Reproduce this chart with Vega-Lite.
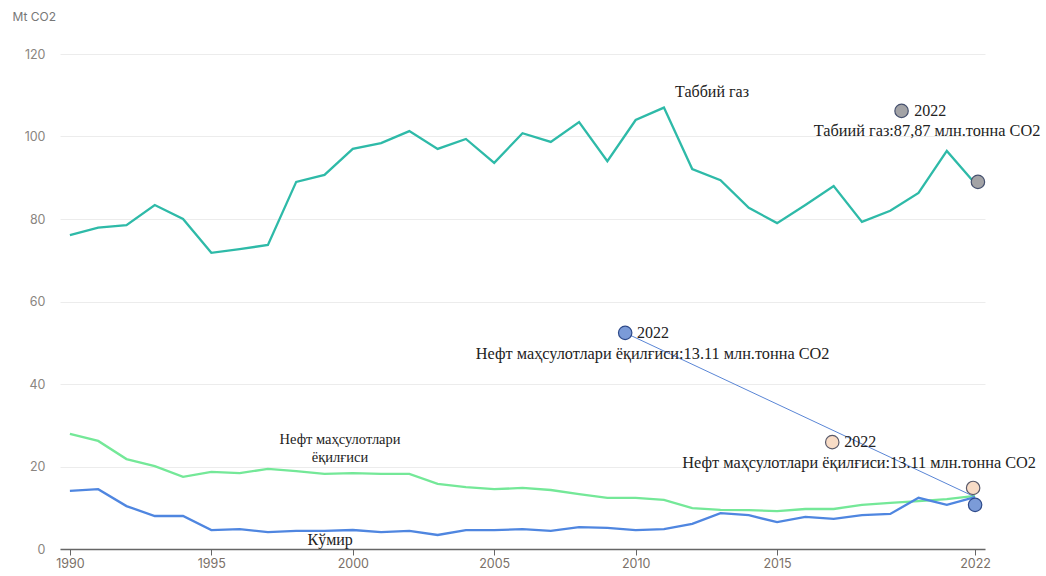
{
  "$schema": "https://vega.github.io/schema/vega-lite/v6.json",
  "autosize": "none",
  "width": 925,
  "height": 495,
  "padding": {"left": 60, "top": 54, "right": 61, "bottom": 27},
  "background": "white",
  "config": {"view": {"stroke": null}},
  "datasets": {
    "series": [
      {"year": 1990, "series": "gas", "value": 76.1},
      {"year": 1991, "series": "gas", "value": 77.9},
      {"year": 1992, "series": "gas", "value": 78.5},
      {"year": 1993, "series": "gas", "value": 83.4},
      {"year": 1994, "series": "gas", "value": 80.0},
      {"year": 1995, "series": "gas", "value": 71.8},
      {"year": 1996, "series": "gas", "value": 72.7},
      {"year": 1997, "series": "gas", "value": 73.7},
      {"year": 1998, "series": "gas", "value": 89.0},
      {"year": 1999, "series": "gas", "value": 90.7},
      {"year": 2000, "series": "gas", "value": 97.0},
      {"year": 2001, "series": "gas", "value": 98.4},
      {"year": 2002, "series": "gas", "value": 101.3},
      {"year": 2003, "series": "gas", "value": 97.0},
      {"year": 2004, "series": "gas", "value": 99.4},
      {"year": 2005, "series": "gas", "value": 93.6},
      {"year": 2006, "series": "gas", "value": 100.8},
      {"year": 2007, "series": "gas", "value": 98.7},
      {"year": 2008, "series": "gas", "value": 103.5},
      {"year": 2009, "series": "gas", "value": 94.0},
      {"year": 2010, "series": "gas", "value": 104.0},
      {"year": 2011, "series": "gas", "value": 107.0},
      {"year": 2012, "series": "gas", "value": 92.1},
      {"year": 2013, "series": "gas", "value": 89.4},
      {"year": 2014, "series": "gas", "value": 82.7},
      {"year": 2015, "series": "gas", "value": 79.0},
      {"year": 2016, "series": "gas", "value": 83.4},
      {"year": 2017, "series": "gas", "value": 88.0},
      {"year": 2018, "series": "gas", "value": 79.3},
      {"year": 2019, "series": "gas", "value": 82.0},
      {"year": 2020, "series": "gas", "value": 86.3},
      {"year": 2021, "series": "gas", "value": 96.5},
      {"year": 2022, "series": "gas", "value": 88.6},
      {"year": 1990, "series": "oil", "value": 27.9},
      {"year": 1991, "series": "oil", "value": 26.2},
      {"year": 1992, "series": "oil", "value": 21.8},
      {"year": 1993, "series": "oil", "value": 20.1},
      {"year": 1994, "series": "oil", "value": 17.5},
      {"year": 1995, "series": "oil", "value": 18.7},
      {"year": 1996, "series": "oil", "value": 18.4},
      {"year": 1997, "series": "oil", "value": 19.4},
      {"year": 1998, "series": "oil", "value": 18.9},
      {"year": 1999, "series": "oil", "value": 18.2},
      {"year": 2000, "series": "oil", "value": 18.4},
      {"year": 2001, "series": "oil", "value": 18.2},
      {"year": 2002, "series": "oil", "value": 18.2},
      {"year": 2003, "series": "oil", "value": 15.8},
      {"year": 2004, "series": "oil", "value": 15.0},
      {"year": 2005, "series": "oil", "value": 14.5},
      {"year": 2006, "series": "oil", "value": 14.8},
      {"year": 2007, "series": "oil", "value": 14.3},
      {"year": 2008, "series": "oil", "value": 13.3},
      {"year": 2009, "series": "oil", "value": 12.4},
      {"year": 2010, "series": "oil", "value": 12.4},
      {"year": 2011, "series": "oil", "value": 11.9},
      {"year": 2012, "series": "oil", "value": 9.9},
      {"year": 2013, "series": "oil", "value": 9.5},
      {"year": 2014, "series": "oil", "value": 9.4},
      {"year": 2015, "series": "oil", "value": 9.2},
      {"year": 2016, "series": "oil", "value": 9.7},
      {"year": 2017, "series": "oil", "value": 9.7},
      {"year": 2018, "series": "oil", "value": 10.7},
      {"year": 2019, "series": "oil", "value": 11.2},
      {"year": 2020, "series": "oil", "value": 11.6},
      {"year": 2021, "series": "oil", "value": 12.1},
      {"year": 2022, "series": "oil", "value": 12.9},
      {"year": 1990, "series": "coal", "value": 14.1},
      {"year": 1991, "series": "coal", "value": 14.5},
      {"year": 1992, "series": "coal", "value": 10.4},
      {"year": 1993, "series": "coal", "value": 8.0},
      {"year": 1994, "series": "coal", "value": 8.0},
      {"year": 1995, "series": "coal", "value": 4.6},
      {"year": 1996, "series": "coal", "value": 4.8},
      {"year": 1997, "series": "coal", "value": 4.1},
      {"year": 1998, "series": "coal", "value": 4.4},
      {"year": 1999, "series": "coal", "value": 4.4},
      {"year": 2000, "series": "coal", "value": 4.6},
      {"year": 2001, "series": "coal", "value": 4.1},
      {"year": 2002, "series": "coal", "value": 4.4},
      {"year": 2003, "series": "coal", "value": 3.4},
      {"year": 2004, "series": "coal", "value": 4.6},
      {"year": 2005, "series": "coal", "value": 4.6},
      {"year": 2006, "series": "coal", "value": 4.8},
      {"year": 2007, "series": "coal", "value": 4.4},
      {"year": 2008, "series": "coal", "value": 5.3},
      {"year": 2009, "series": "coal", "value": 5.1},
      {"year": 2010, "series": "coal", "value": 4.6},
      {"year": 2011, "series": "coal", "value": 4.8},
      {"year": 2012, "series": "coal", "value": 6.1},
      {"year": 2013, "series": "coal", "value": 8.7},
      {"year": 2014, "series": "coal", "value": 8.2},
      {"year": 2015, "series": "coal", "value": 6.5},
      {"year": 2016, "series": "coal", "value": 7.8},
      {"year": 2017, "series": "coal", "value": 7.3},
      {"year": 2018, "series": "coal", "value": 8.2},
      {"year": 2019, "series": "coal", "value": 8.5},
      {"year": 2020, "series": "coal", "value": 12.4},
      {"year": 2021, "series": "coal", "value": 10.7},
      {"year": 2022, "series": "coal", "value": 12.6}
    ],
    "connector": [
      {"year": 2009.63, "value": 52.4},
      {"year": 2022, "value": 12.6}
    ],
    "dots": [
      {"year": 2019.4, "value": 106.2, "kind": "gas"},
      {"year": 2022.1, "value": 89.0, "kind": "gas"},
      {"year": 2009.63, "value": 52.4, "kind": "coal"},
      {"year": 2016.95, "value": 25.9, "kind": "oil"},
      {"year": 2021.93, "value": 14.8, "kind": "oil"},
      {"year": 2022.0, "value": 10.7, "kind": "coal"}
    ],
    "years": [
      {"year": 2019.85, "value": 106.2, "label": "2022"},
      {"year": 2010.05, "value": 52.4, "label": "2022"},
      {"year": 2017.37, "value": 25.9, "label": "2022"}
    ],
    "notes": [
      {"year": 2020.3, "value": 101.3, "label": "Табиий газ:87,87 млн.тонна CO2"},
      {"year": 2010.6, "value": 47.3, "label": "Нефт маҳсулотлари ёқилғиси:13.11 млн.тонна CO2"},
      {"year": 2017.9, "value": 20.8, "label": "Нефт маҳсулотлари ёқилғиси:13.11 млн.тонна CO2"}
    ],
    "names": [
      {"year": 2012.7, "value": 110.8, "label": "Таббий газ"},
      {"year": 1999.2, "value": 2.2, "label": "Кўмир"}
    ],
    "names2": [
      {"year": 1999.55, "value": 26.4, "label": "Нефт маҳсулотлари"},
      {"year": 1999.55, "value": 22.1, "label": "ёқилғиси"}
    ]
  },
  "encoding": {
    "x": {
      "field": "year",
      "type": "quantitative",
      "scale": {"domain": [1989.65, 2022.35], "nice": false, "zero": false},
      "axis": {
        "values": [1990, 1995, 2000, 2005, 2010, 2015, 2022],
        "format": "d",
        "title": null,
        "grid": false,
        "domainColor": "#666666",
        "domainWidth": 1.5,
        "tickColor": "#666666",
        "tickSize": 6,
        "labelColor": "#7a7068",
        "labelFont": "Inter",
        "labelFontSize": 12.5,
        "labelPadding": 2
      }
    },
    "y": {
      "field": "value",
      "type": "quantitative",
      "scale": {"domain": [0, 120], "nice": false},
      "axis": {
        "values": [0, 20, 40, 60, 80, 100, 120],
        "title": "Mt CO2",
        "titleAngle": 0,
        "titleAlign": "left",
        "titleBaseline": "middle",
        "titleX": -48,
        "titleY": -38,
        "titleFont": "Inter",
        "titleFontSize": 12,
        "titleFontWeight": "normal",
        "titleColor": "#777777",
        "grid": true,
        "gridColor": "#ececec",
        "domain": false,
        "ticks": false,
        "labelPadding": 15,
        "labelColor": "#8a8580",
        "labelFont": "Inter",
        "labelFontSize": 12.5
      }
    }
  },
  "layer": [
    {
      "data": {"name": "series"},
      "mark": {"type": "line", "strokeWidth": 2.3},
      "encoding": {
        "color": {
          "field": "series",
          "type": "nominal",
          "scale": {"domain": ["gas", "oil", "coal"], "range": ["#2ebaa8", "#74e898", "#4f86e0"]},
          "legend": null
        }
      }
    },
    {
      "data": {"name": "connector"},
      "mark": {"type": "line", "strokeWidth": 1, "color": "#5a86d6"},
      "encoding": {}
    },
    {
      "data": {"name": "dots"},
      "mark": {"type": "point", "filled": true, "size": 180, "strokeWidth": 1.2, "opacity": 1},
      "encoding": {
        "fill": {
          "field": "kind",
          "type": "nominal",
          "scale": {"domain": ["gas", "oil", "coal"], "range": ["#a3a3a6", "#f8dcc6", "#7b9bd8"]},
          "legend": null
        },
        "stroke": {
          "field": "kind",
          "type": "nominal",
          "scale": {"domain": ["gas", "oil", "coal"], "range": ["#45506e", "#5a5a6a", "#2e4a8a"]},
          "legend": null
        }
      }
    },
    {
      "data": {"name": "years"},
      "mark": {"type": "text", "align": "left", "baseline": "middle", "font": "Liberation Serif", "fontSize": 16, "color": "#222222"},
      "encoding": {"text": {"field": "label"}}
    },
    {
      "data": {"name": "notes"},
      "mark": {"type": "text", "align": "center", "baseline": "middle", "font": "Liberation Serif", "fontSize": 16.3, "color": "#222222"},
      "encoding": {"text": {"field": "label"}}
    },
    {
      "data": {"name": "names"},
      "mark": {"type": "text", "align": "center", "baseline": "middle", "font": "Liberation Serif", "fontSize": 16, "color": "#222222"},
      "encoding": {"text": {"field": "label"}}
    },
    {
      "data": {"name": "names2"},
      "mark": {"type": "text", "align": "center", "baseline": "middle", "font": "Liberation Serif", "fontSize": 14.5, "color": "#222222"},
      "encoding": {"text": {"field": "label"}}
    }
  ]
}
